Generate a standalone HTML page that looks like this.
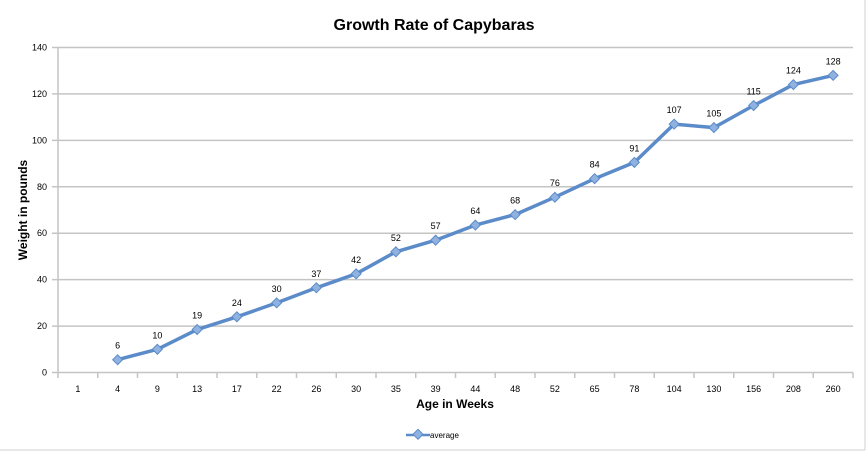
<!DOCTYPE html>
<html><head><meta charset="utf-8"><style>
body{margin:0;background:#fff;}
svg text{font-family:"Liberation Sans",Arial,sans-serif;}
</style></head><body>
<svg width="868" height="454" xmlns="http://www.w3.org/2000/svg">
<rect x="0" y="0" width="868" height="454" fill="#fff"/>
<line x1="865" y1="0" x2="865" y2="450" stroke="#d0d0d0"/>
<line x1="0" y1="450" x2="865" y2="450" stroke="#d0d0d0"/>
<text x="434" y="30" text-anchor="middle" font-size="16" font-weight="bold">Growth Rate of Capybaras</text>
<g id="grid" stroke="#c4c4c4" stroke-width="1.5"></g>
<g id="lab" font-size="9" text-anchor="end"></g>
<text transform="translate(27,210) rotate(-90)" text-anchor="middle" font-size="12" font-weight="bold">Weight in pounds</text>
<text x="455" y="408" text-anchor="middle" font-size="12" font-weight="bold">Age in Weeks</text>
<line x1="406" y1="435" x2="430" y2="435" stroke="#5b8bc9" stroke-width="2.5"/>
<rect x="414" y="431" width="7" height="7" fill="#8fb2e0" stroke="#5b8bc9" transform="rotate(45 418 435)"/>
<text x="430" y="438" font-size="8">average</text>
<g id="series"></g>
</svg>
<script>
var ns="http://www.w3.org/2000/svg";
function el(t,a,p,txt){var e=document.createElementNS(ns,t);for(var k in a)e.setAttribute(k,a[k]);if(txt!=null)e.textContent=txt;document.getElementById(p).appendChild(e);return e;}
var y0=372.5,py=2.3214;
for(var v=0;v<=140;v+=20){var y=y0-v*py;el("line",{x1:52,y1:y,x2:853,y2:y},"grid");el("text",{x:47,y:y+3},"lab",v);}
el("line",{x1:58,y1:47,x2:58,y2:373},"grid");
var cats=[1,4,9,13,17,22,26,30,35,39,44,48,52,65,78,104,130,156,208,260];
var w=39.75;
for(var i=0;i<=20;i++){el("line",{x1:58+w*i,y1:372.5,x2:58+w*i,y2:378},"grid");}
for(var i=0;i<20;i++){el("text",{x:58+w*(i+0.5),y:392,"text-anchor":"middle","font-size":"9"},"series",cats[i]);}
var vals=[5.5,10,18.5,24,30,36.5,42.5,52,57,63.5,68,75.5,83.5,90.5,107,105.5,115,124,128];
var labs=[6,10,19,24,30,37,42,52,57,64,68,76,84,91,107,105,115,124,128];
var pts=[];
for(var i=0;i<vals.length;i++){pts.push((58+w*(i+1.5)).toFixed(1)+","+(y0-vals[i]*py).toFixed(1));}
el("polyline",{points:pts.join(" "),fill:"none",stroke:"#5b8bc9","stroke-width":3.5,"stroke-linejoin":"round"},"series");
for(var i=0;i<vals.length;i++){var x=58+w*(i+1.5),y=y0-vals[i]*py;
el("rect",{x:x-3.5,y:y-3.5,width:7,height:7,fill:"#8fb2e0",stroke:"#5b8bc9",transform:"rotate(45 "+x+" "+y+")"},"series");
el("text",{x:x,y:y-11,"text-anchor":"middle","font-size":"9"},"series",labs[i]);}
</script>
</body></html>
